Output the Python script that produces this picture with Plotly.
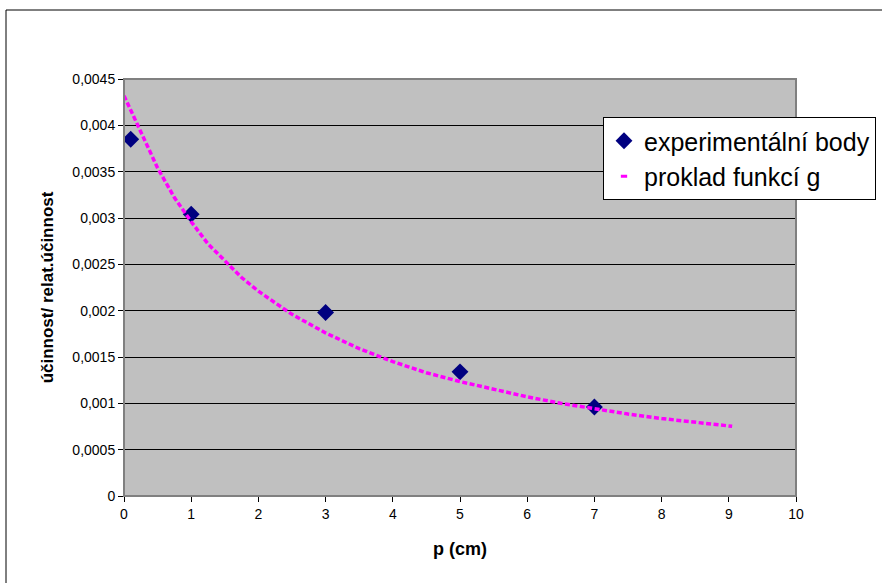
import plotly.graph_objects as go

# experimental points
exp_p = [0.1, 1, 3, 5, 7]
exp_eff = [0.00385, 0.00304, 0.00198, 0.00134, 0.00096]

# fitted curve g
fit_p = [0.0, 0.25, 0.5, 0.75, 1.0, 1.25, 1.5, 1.75, 2.0, 2.5, 3.0, 3.5, 4.0,
         4.5, 5.0, 5.5, 6.0, 6.5, 7.0, 7.5, 8.0, 8.5, 9.0, 9.05]
fit_g = [0.00432, 0.00393, 0.00354, 0.00322, 0.00296, 0.00272, 0.00254, 0.002358,
         0.00221, 0.00196, 0.00176, 0.00159, 0.00145, 0.00133, 0.001235, 0.00115,
         0.00107, 0.00100, 0.00094, 0.000885, 0.000836, 0.000795, 0.000757, 0.000752]

y_ticks = [0, 0.0005, 0.001, 0.0015, 0.002, 0.0025, 0.003, 0.0035, 0.004, 0.0045]
y_ticktext = ["0", "0,0005", "0,001", "0,0015", "0,002", "0,0025", "0,003",
              "0,0035", "0,004", "0,0045"]
x_ticks = list(range(0, 11))

FONT = "Liberation Sans, Arial, sans-serif"

fig = go.Figure()
fig.add_trace(go.Scatter(
    x=exp_p, y=exp_eff, mode="markers", name="experimentální body",
    marker=dict(symbol="diamond", size=13, color="#000080",
                line=dict(width=0)),
))
fig.add_trace(go.Scatter(
    x=fit_p, y=fit_g, mode="lines", name="proklad funkcí g",
    line=dict(color="#FF00FF", width=3.5, dash="5px,2.5px"),
    showlegend=False,
))
# legend sample for the fitted curve (short dash like the original)
fig.add_trace(go.Scatter(
    x=[None], y=[None], mode="markers", name="proklad funkcí g",
    marker=dict(symbol="line-ew", size=4.5, color="#FF00FF",
                line=dict(color="#FF00FF", width=3)),
))

L, R, T, B = 124, 86, 79, 87
W, H = 882, 583
pw, ph = W - L - R, H - T - B

def px2x(px):
    return (px - L) / pw

def py2y(py):
    return (H - B - py) / ph

fig.update_layout(
    width=W, height=H,
    margin=dict(l=L, r=R, t=T, b=B, pad=0, autoexpand=False),
    paper_bgcolor="white",
    plot_bgcolor="#C0C0C0",
    font=dict(family=FONT, color="black", size=14),
    showlegend=True,
    legend=dict(
        x=px2x(603), y=py2y(117), xanchor="left", yanchor="top",
        bgcolor="white", bordercolor="black", borderwidth=1,
        font=dict(size=25, family=FONT, color="black"),
        itemwidth=30,
    ),
    xaxis=dict(
        range=[0, 10], tickvals=x_ticks, showgrid=False, zeroline=False,
        showline=True, linecolor="black", linewidth=1,
        ticks="outside", ticklen=5, tickcolor="black",
        tickfont=dict(size=14, family=FONT),
        title=dict(text="<b>p (cm)</b>", font=dict(size=18, family=FONT), standoff=21),
        fixedrange=True,
    ),
    yaxis=dict(
        range=[0, 0.0045], tickvals=y_ticks, ticktext=y_ticktext,
        showgrid=True, gridcolor="black", gridwidth=1, zeroline=False,
        showline=True, linecolor="black", linewidth=1,
        ticks="outside", ticklen=5, tickcolor="black",
        tickfont=dict(size=14, family=FONT),
        title=dict(text="<b>účinnost/ relat.účinnost</b>", font=dict(size=17, family=FONT),
                   standoff=14),
        fixedrange=True,
    ),
    shapes=[
        # plot area border (top/right gray)
        dict(type="rect", xref="paper", yref="paper", x0=0, y0=0, x1=1, y1=1,
             line=dict(color="#808080", width=2), layer="above"),
        # outer chart frame
        dict(type="rect", xref="paper", yref="paper",
             x0=px2x(6), y0=py2y(600), x1=px2x(900), y1=py2y(10),
             line=dict(color="black", width=1)),
    ],
)
fig.update_xaxes(layer="above traces")
fig.update_yaxes(layer="above traces")

fig.write_html("out.html")
